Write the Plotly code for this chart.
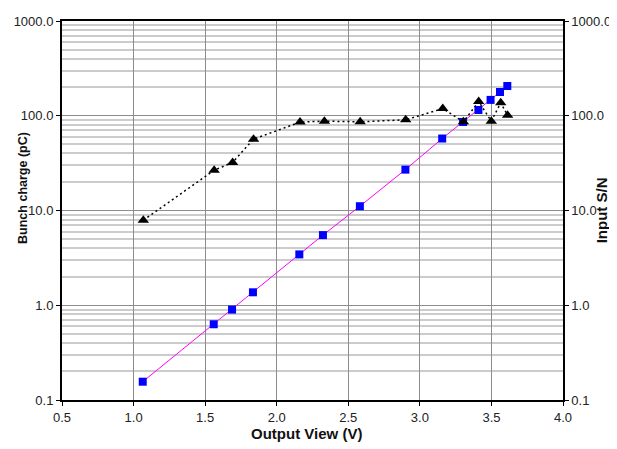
import plotly.graph_objects as go

# Bunch charge (pC) vs output voltage
charge_v = [1.064, 1.560, 1.688, 1.834, 2.158, 2.323, 2.581, 2.899, 3.156, 3.302, 3.409, 3.494, 3.560, 3.611]
charge_pc = [0.156, 0.63, 0.90, 1.37, 3.44, 5.5, 11.1, 27.0, 57.5, 86, 115, 147, 178, 206]

# Input S/N vs output voltage
sn_v = [1.068, 1.563, 1.692, 1.838, 2.163, 2.333, 2.583, 2.901, 3.160, 3.304, 3.411, 3.499, 3.565, 3.613]
sn_val = [7.9, 26.6, 32.2, 56.6, 85.7, 87.7, 86.3, 90.6, 119, 86.3, 141, 87.7, 137, 101]

y_tickvals = [0.1, 1, 10, 100, 1000]
y_ticktext = ["0.1", "1.0", "10.0", "100.0", "1000.0"]
minor_vals = [m * 10 ** e for e in (-1, 0, 1, 2) for m in range(2, 10)]

FONT = "Liberation Sans, Arial, sans-serif"

fig = go.Figure()
fig.add_trace(go.Scatter(
    x=charge_v, y=charge_pc, mode="lines+markers",
    line=dict(color="#FF00FF", width=1),
    marker=dict(symbol="square", size=8, color="#0000FF"),
    showlegend=False,
))
fig.add_trace(go.Scatter(
    x=sn_v, y=sn_val, mode="lines+markers", yaxis="y2",
    line=dict(color="#000000", width=1.5, dash="2px,3px"),
    marker=dict(symbol="triangle-up", size=10, color="#000000"),
    showlegend=False,
))

axis_common = dict(
    type="log", range=[-1, 3], tickvals=y_tickvals, ticktext=y_ticktext,
    ticks="outside", ticklen=4, tickcolor="#000", tickwidth=1,
    tickfont=dict(family=FONT, size=13, color="#222"),
    showline=True, linecolor="#000", zeroline=False,
)

fig.update_layout(
    width=625, height=457,
    margin=dict(l=52, r=70, t=6, b=65),
    paper_bgcolor="white", plot_bgcolor="white",
    font=dict(family=FONT, color="#222"),
    xaxis=dict(
        range=[0.5, 4.0], dtick=0.5, tick0=0.5, tickformat=".1f",
        ticks="outside", ticklen=4, tickcolor="#000",
        showline=True, linecolor="#000", linewidth=2, mirror=True,
        showgrid=True, gridcolor="#8c8c8c", gridwidth=1, zeroline=False,
        tickfont=dict(family=FONT, size=13, color="#222"),
    ),
    yaxis=dict(
        **axis_common, linewidth=2,
        showgrid=True, gridcolor="#8c8c8c", gridwidth=1,
        minor=dict(tickvals=minor_vals, showgrid=True, gridcolor="#cccccc", gridwidth=1.5, ticks=""),
    ),
    yaxis2=dict(
        **axis_common, linewidth=1.5, overlaying="y", side="right", showgrid=False,
    ),
    annotations=[
        dict(text="<b>Bunch charge (pC)</b>", xref="paper", yref="paper",
             x=-0.0775, y=0.56, textangle=-90, showarrow=False,
             xanchor="center", yanchor="middle", font=dict(family=FONT, size=12.5, color="#111")),
        dict(text="<b>Input S/N</b>", xref="paper", yref="paper",
             x=1.0775, y=0.5, textangle=-90, showarrow=False,
             xanchor="center", yanchor="middle", font=dict(family=FONT, size=15, color="#111")),
        dict(text="<b>Output View (V)</b>", xref="paper", yref="paper",
             x=0.489, y=-0.088, showarrow=False,
             xanchor="center", yanchor="middle", font=dict(family=FONT, size=15, color="#111")),
    ],
)

fig.write_html("out.html")
